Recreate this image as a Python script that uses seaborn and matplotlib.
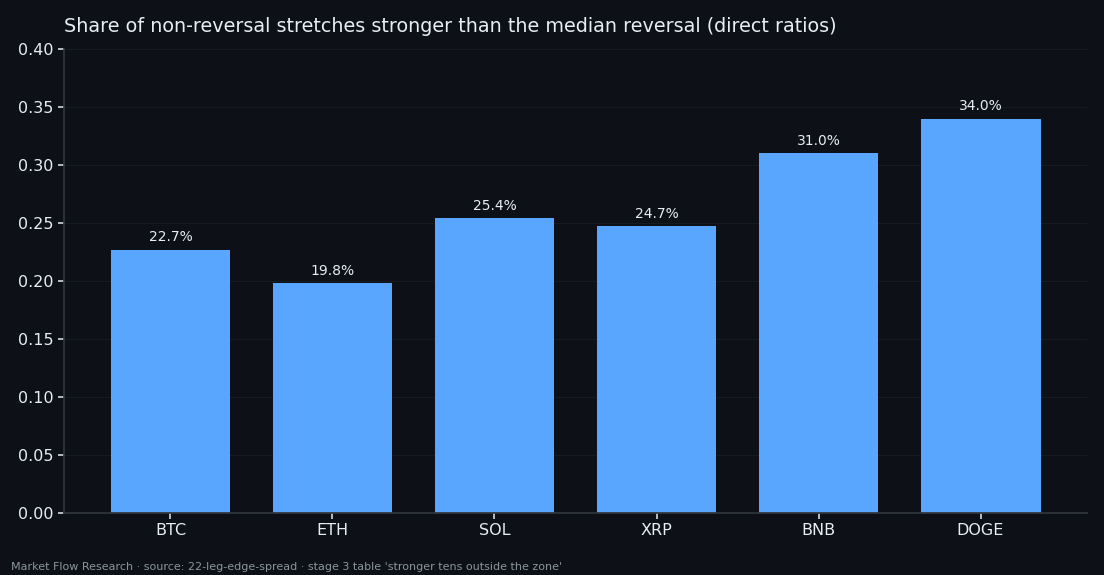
import matplotlib
matplotlib.use("Agg")
import matplotlib.pyplot as plt
import pandas as pd
import seaborn as sns

coins = ["BTC", "ETH", "SOL", "XRP", "BNB", "DOGE"]
share = [0.227, 0.198, 0.254, 0.247, 0.310, 0.340]

BG = "#0d1117"
FG = "#e6edf3"
BAR = "#58a6ff"


def main():
    sns.set_theme(style="dark")
    plt.rcParams["font.family"] = ["DejaVu Sans"]
    df = pd.DataFrame({"coin": coins, "share": share})

    fig = plt.figure(figsize=(11.04, 5.75), dpi=100, facecolor=BG)
    ax = fig.add_axes([64 / 1104, 1 - 513 / 575, (1087 - 64) / 1104, (513 - 49) / 575])
    ax.set_facecolor(BG)

    sns.barplot(data=df, x="coin", y="share", color=BAR, saturation=1, width=0.74,
                linewidth=0, ax=ax)

    for i, v in enumerate(share):
        ax.text(i, v + 0.005, f"{v * 100:.1f}%", ha="center", va="bottom",
                color=FG, fontsize=10)

    ax.set_xlim(-0.657, len(coins) - 1 + 0.657)
    ax.set_ylim(0, 0.40)
    ax.set_yticks([i * 0.05 for i in range(9)])
    ax.set_yticklabels([f"{i * 0.05:.2f}" for i in range(9)])
    ax.set_xlabel("")
    ax.set_ylabel("")
    ax.grid(axis="y", color="#161b22", linewidth=0.8)
    ax.set_axisbelow(True)
    ax.tick_params(colors=FG, labelsize=11.5, length=4, color="#c9d1d9",
                   bottom=True, left=True)
    for s in ["top", "right"]:
        ax.spines[s].set_visible(False)
    for s in ["left", "bottom"]:
        ax.spines[s].set_color("#30363d")
        ax.spines[s].set_visible(True)

    ax.set_title("Share of non-reversal stretches stronger than the median reversal (direct ratios)",
                 loc="left", color=FG, fontsize=13.8, pad=12)
    fig.text(11 / 1104, 1 - 567 / 575, "Market Flow Research · source: 22-leg-edge-spread · stage 3 table "
             "'stronger tens outside the zone'", color="#8b949e", fontsize=8, va="center")

    fig.savefig("out.png", dpi=100, facecolor=BG)


if __name__ == "__main__":
    main()
